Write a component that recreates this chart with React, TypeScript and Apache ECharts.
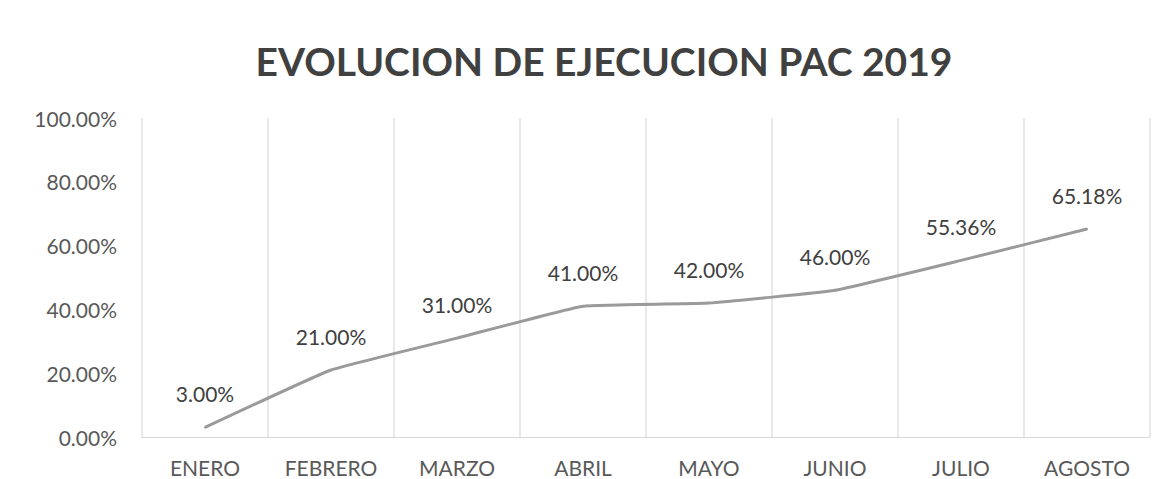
import React, { useEffect, useRef } from "react";
import * as echarts from "echarts";

const titleText = "EVOLUCION DE EJECUCION PAC 2019";
const months = ["ENERO", "FEBRERO", "MARZO", "ABRIL", "MAYO", "JUNIO", "JULIO", "AGOSTO"];
const execution = [0.03, 0.21, 0.31, 0.41, 0.42, 0.46, 0.5536, 0.6518];
const yTicks = { min: 0, max: 1, interval: 0.2 };

const FONT = "Lato, 'Open Sans', sans-serif";

export default function App() {
  const ref = useRef<HTMLDivElement>(null);
  useEffect(() => {
    if (!ref.current) return;
    const chart = echarts.init(ref.current, null, { renderer: "svg" });
    chart.setOption({
      animation: false,
      backgroundColor: "#ffffff",
      title: {
        text: titleText,
        top: 36,
        left: 599,
        textAlign: "center",
        textStyle: { fontFamily: FONT, fontSize: 39, fontWeight: "bold", color: "#404040" },
      },
      grid: { left: 142, right: 2, top: 118, bottom: 42 },
      xAxis: {
        type: "category",
        data: months,
        boundaryGap: true,
        axisLine: { show: true, lineStyle: { color: "#d9d9d9", width: 1 } },
        axisTick: { show: false },
        axisLabel: { fontFamily: FONT, fontSize: 21, color: "#595959", margin: 20 },
        splitLine: { show: true, lineStyle: { color: "#e0e0e0", width: 1.5 } },
      },
      yAxis: {
        type: "value",
        min: yTicks.min,
        max: yTicks.max,
        interval: yTicks.interval,
        axisLine: { show: false },
        axisTick: { show: false },
        splitLine: { show: false },
        axisLabel: {
          fontFamily: FONT,
          fontSize: 21,
          color: "#595959",
          margin: 25,
          formatter: (v: number) => (v * 100).toFixed(2) + "%",
        },
      },
      series: [
        {
          type: "line",
          data: execution,
          smooth: 0.1,
          symbol: "circle",
          symbolSize: 2,
          showSymbol: true,
          itemStyle: { color: "#9a9a9a" },
          lineStyle: { color: "#9a9a9a", width: 3 },
          labelLayout: { hideOverlap: false },
          label: {
            show: true,
            position: "top",
            distance: 22,
            fontFamily: FONT,
            fontSize: 21,
            color: "#404040",
            formatter: (p: any) => (p.value * 100).toFixed(2) + "%",
          },
        },
      ],
    });
    return () => chart.dispose();
  }, []);
  return (
    <div
      ref={ref}
      style={{ position: "fixed", left: 0, top: 0, width: 1152, height: 479 }}
    />
  );
}
